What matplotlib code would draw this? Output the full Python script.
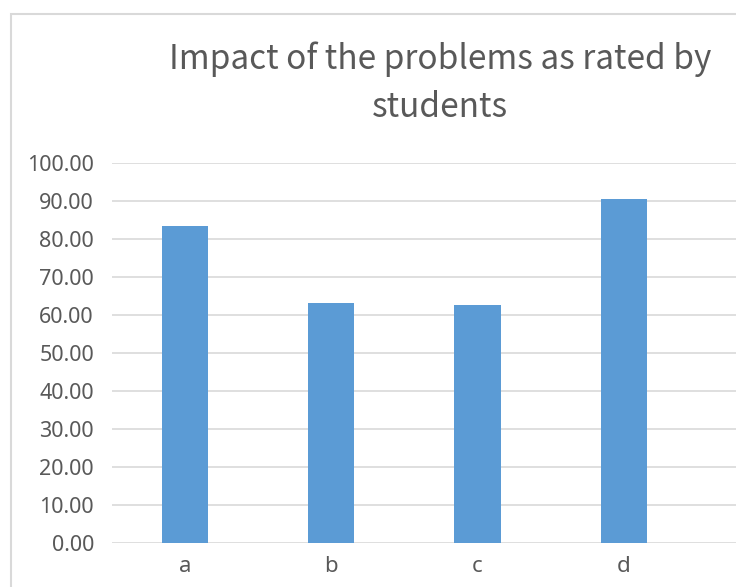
import matplotlib
matplotlib.use("Agg")
import matplotlib.pyplot as plt
from matplotlib.patches import Rectangle

categories = ["a", "b", "c", "d"]
values = [83.5, 63.3, 62.7, 90.5]
yticks = [0, 10, 20, 30, 40, 50, 60, 70, 80, 90, 100]
title_lines = ["Impact of the problems as rated by", "students"]

plt.rcParams['font.family'] = ['Noto Sans', 'DejaVu Sans']

W, H = 736, 587
fig = plt.figure(figsize=(W / 100, H / 100), dpi=100)

# chart border
fig.patches.append(Rectangle((11 / W, -0.1), 1.2, (H - 14) / H + 0.1,
                             transform=fig.transFigure, fill=False,
                             edgecolor="#d9d9d9", linewidth=1.5))

ax = fig.add_axes([112 / W, 43.7 / H, (W - 112) / W, (543.3 - 163) / H])
x = list(range(len(categories)))
ax.bar(x, values, width=0.315, color="#5B9BD5", zorder=3)
ax.set_xlim(-0.5, -0.5 + (W - 112) / 146.2)
ax.set_ylim(0, 100)
ax.set_yticks(yticks)
ax.set_yticklabels([f"{v:.2f}" for v in yticks])
ax.set_xticks(x)
ax.set_xticklabels(categories)
ax.grid(axis="y", color="#d9d9d9", linewidth=1.2, zorder=0)
for s in ax.spines.values():
    s.set_visible(False)
ax.tick_params(axis="both", length=0, colors="#595959")
ax.tick_params(axis="y", pad=13, labelsize=15.5)
ax.tick_params(axis="x", pad=9, labelsize=16)
for lbl in ax.get_xticklabels() + ax.get_yticklabels():
    lbl.set_fontweight("light")
ax.set_facecolor("none")

fig.text(440 / W, 1 - 69 / H, title_lines[0], ha="center", va="baseline",
         fontsize=24, color="#595959", family=['Noto Sans CJK SC', 'DejaVu Sans'],
         fontweight="light")
fig.text(440 / W, 1 - 117 / H, title_lines[1], ha="center", va="baseline",
         fontsize=24, color="#595959", family=['Noto Sans CJK SC', 'DejaVu Sans'],
         fontweight="light")

fig.savefig("out.png", dpi=100)
